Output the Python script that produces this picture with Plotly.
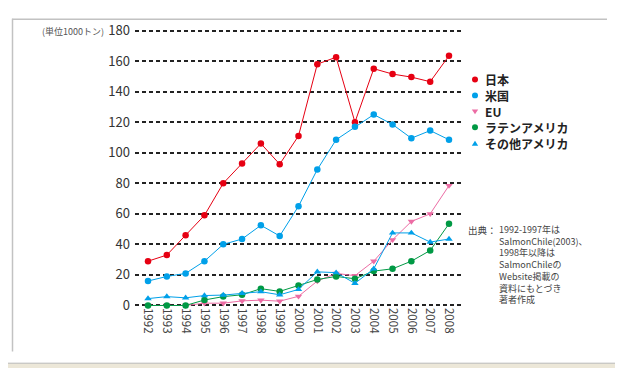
import plotly.graph_objects as go

years = list(range(1992, 2009))
japan = [29, 33, 46, 59, 80, 93, 106, 92.5, 111, 158, 162.5, 120, 155, 151.5, 149.5, 146.5, 163.5]
usa = [16, 19, 21, 29, 40, 43.5, 52.5, 45.5, 65, 89, 108.5, 117, 125, 118.5, 109.5, 114.5, 108.5]
eu = [0, 0, 0, 1.5, 1.5, 3, 3.5, 2.8, 6, 16, 21, 19.5, 29, 43, 55, 60, 78.5]
latam = [0, 0, 0, 3.6, 5.8, 7, 11, 9.2, 13, 17, 19, 17.5, 22.5, 24, 29, 36, 53.5]
other = [4.5, 5.8, 5, 6.5, 6.8, 8, 9, 7, 10.5, 22, 21.5, 14.5, 24, 47.5, 47.5, 41.5, 43.5]

names = ["日本", "米国", "EU", "ラテンアメリカ", "その他アメリカ"]
colors = ["#e60012", "#00a0e9", "#ec6ca4", "#009944", "#00a0e9"]
symbols = ["circle", "circle", "triangle-down", "circle", "triangle-up"]
series = [japan, usa, eu, latam, other]

OFF = 8  # page body margin
W, H = 615, 360
L, R = 135 - OFF, 461 - OFF
T, B = 22.44 - OFF, 306.56 - OFF
PW, PH = R - L, B - T


def px(x):  # page pixel x -> paper
    return (x - OFF - L) / PW


def py(y):  # page pixel y -> paper
    return (B - (y - OFF)) / PH


fig = go.Figure()
for name, vals, col, sym in zip(names, series, colors, symbols):
    fig.add_trace(go.Scatter(x=years, y=vals, mode="lines+markers", name=name,
                             line=dict(color=col, width=1),
                             marker=dict(color=col, symbol=sym, size=6.5),
                             showlegend=False, cliponaxis=False))

shapes = []
frame_col = "#c2c2c2"
shapes.append(dict(type="rect", xref="paper", yref="paper", x0=px(618), x1=px(624), y0=py(0), y1=py(369),
                   fillcolor="#ece7d8", line=dict(width=0), layer="below"))
shapes.append(dict(type="rect", xref="paper", yref="paper", x0=px(0), x1=px(624), y0=py(364), y1=py(369),
                   fillcolor="#ece7d8", line=dict(width=0), layer="below"))
shapes.append(dict(type="line", xref="paper", yref="paper", x0=px(618), x1=px(618), y0=py(8), y1=py(364),
                   line=dict(color="#d0d0d0", width=1)))
shapes.append(dict(type="line", xref="paper", yref="paper", x0=px(8), x1=px(618), y0=py(364), y1=py(364),
                   line=dict(color="#b8b8b8", width=1)))
shapes.append(dict(type="line", xref="paper", yref="paper", x0=px(12), x1=px(607), y0=py(12.5), y1=py(12.5),
                   line=dict(color=frame_col, width=1.5)))
shapes.append(dict(type="line", xref="paper", yref="paper", x0=px(12.5), x1=px(12.5), y0=py(12), y1=py(352),
                   line=dict(color=frame_col, width=1.5)))

# legend (drawn manually)
leg_x, leg_y0, leg_dy = 475, 74, 16.3
annotations = []
for i, (name, col, sym) in enumerate(zip(names, colors, symbols)):
    cy = leg_y0 + i * leg_dy
    r = 3
    if sym == "circle":
        shapes.append(dict(type="circle", xref="paper", yref="paper", x0=px(leg_x - r), x1=px(leg_x + r),
                           y0=py(cy + r), y1=py(cy - r), fillcolor=col, line=dict(width=0)))
    elif sym == "triangle-down":
        path = "M {} {} L {} {} L {} {} Z".format(px(leg_x - 3.2), py(cy - 2), px(leg_x + 3.2), py(cy - 2),
                                                  px(leg_x), py(cy + 3))
        shapes.append(dict(type="path", xref="paper", yref="paper", path=path, fillcolor=col, line=dict(width=0)))
    else:
        path = "M {} {} L {} {} L {} {} Z".format(px(leg_x - 3.2), py(cy + 2.5), px(leg_x + 3.2), py(cy + 2.5),
                                                  px(leg_x), py(cy - 2.5))
        shapes.append(dict(type="path", xref="paper", yref="paper", path=path, fillcolor=col, line=dict(width=0)))
    annotations.append(dict(text="<b>%s</b>" % name, xref="paper", yref="paper", x=px(483), y=py(cy),
                            xanchor="left", yanchor="middle", showarrow=False,
                            font=dict(size=12, color="#222")))

annotations += [
    dict(text="(単位1000トン)", xref="paper", yref="paper", x=px(106), y=py(25), xanchor="right",
         yanchor="middle", showarrow=False, font=dict(size=9, color="#555")),
    dict(text="出典：", xref="paper", yref="paper", x=px(499), y=py(219), xanchor="right",
         yanchor="top", showarrow=False, font=dict(size=9.5, color="#444")),
    dict(text="1992-1997年は<br>SalmonChile(2003)、<br>1998年以降は<br>SalmonChileの<br>Website掲載の<br>資料にもとづき<br>著者作成",
         xref="paper", yref="paper", x=px(497), y=py(219), xanchor="left", yanchor="top", align="left",
         showarrow=False, font=dict(size=9, color="#444")),
]

fig.update_layout(
    width=W, height=H,
    margin=dict(l=L, r=W - R, t=T, b=H - B, pad=0),
    paper_bgcolor="white", plot_bgcolor="white",
    font=dict(family="Noto Sans CJK JP", color="#333"),
    showlegend=False,
    xaxis=dict(range=[1991.309, 2008.638], tickmode="array", tickvals=years,
               ticktext=[str(y) for y in years], tickangle=90, showgrid=False, zeroline=False,
               showline=False, ticks="", tickfont=dict(size=11.5, color="#444")),
    yaxis=dict(range=[-1, 181], tickmode="array", tickvals=list(range(0, 181, 20)), showgrid=True,
               gridcolor="#222", griddash="4px,3px", gridwidth=1.6, zeroline=False, showline=False,
               ticks="", tickfont=dict(size=13, color="#333"), ticklabelstandoff=4),
    shapes=shapes, annotations=annotations,
)

fig.write_html("out.html")
